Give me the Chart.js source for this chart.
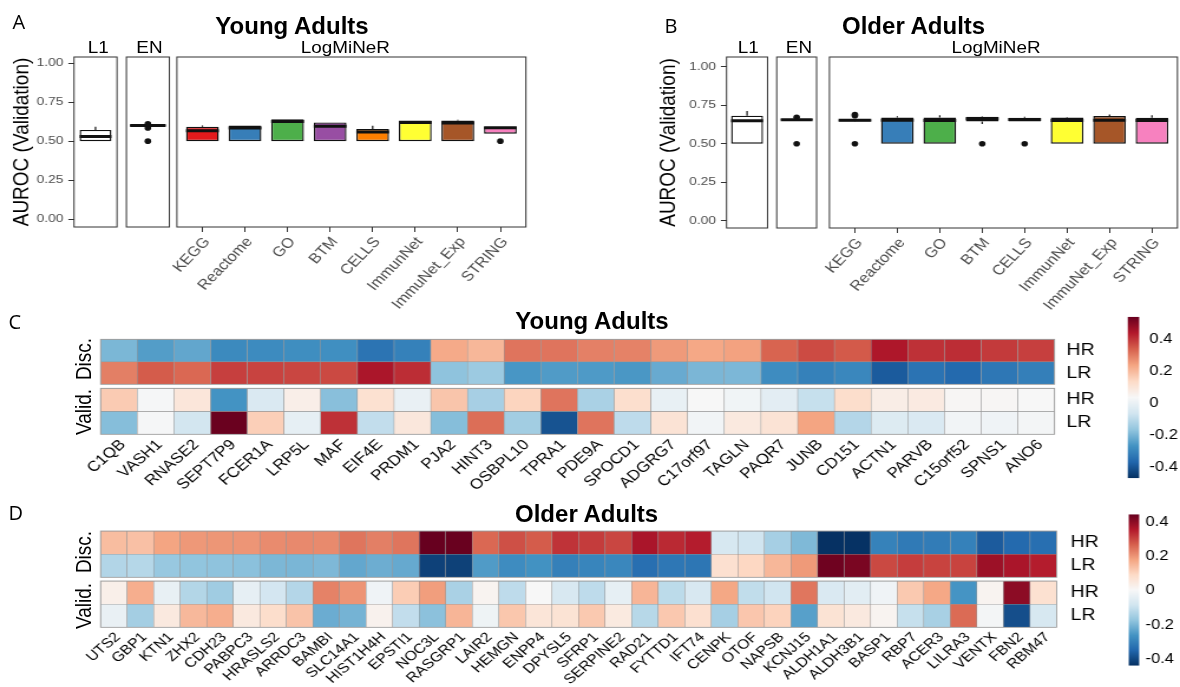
<!DOCTYPE html>
<html>
<head>
<meta charset="utf-8">
<title>AUROC validation and gene heatmaps</title>
<script src="https://cdn.jsdelivr.net/npm/chart.js@4.4.1/dist/chart.umd.min.js"></script>
<style>
  html, body { margin: 0; padding: 0; background: #fff; }
  body { width: 1180px; height: 687px; position: relative; overflow: hidden;
         font-family: "Liberation Sans", Arial, Helvetica, sans-serif; }
  #stage { position: absolute; left: 0; top: 0; width: 1000px; height: 687px; transform-origin: 0 0; }
  canvas { position: absolute; }
  .t { position: absolute; white-space: nowrap; line-height: 1; color: #000; }
</style>
</head>
<body>
<div id="stage"></div>
<script>
// ---- data -------------------------------------------------------------
const groups  = ['L1', 'EN', 'KEGG', 'Reactome', 'GO', 'BTM', 'CELLS', 'ImmunNet', 'ImmuNet_Exp', 'STRING'];
const yTicks  = [0, 0.25, 0.5, 0.75, 1];

// young adults, box statistics per group
const youngMin = [0.500, 0.597, 0.500, 0.500, 0.500, 0.500, 0.500, 0.500, 0.500, 0.548];
const youngQ1  = [0.500, 0.597, 0.500, 0.500, 0.500, 0.500, 0.500, 0.500, 0.500, 0.548];
const youngMed = [0.530, 0.600, 0.567, 0.585, 0.626, 0.595, 0.558, 0.620, 0.617, 0.586];
const youngQ3  = [0.572, 0.603, 0.592, 0.600, 0.640, 0.620, 0.578, 0.632, 0.632, 0.590];
const youngMax = [0.593, 0.603, 0.600, 0.600, 0.640, 0.620, 0.598, 0.632, 0.637, 0.590];
const youngOut = [[], [0.500, 0.585, 0.612], [], [], [], [], [], [], [], [0.500]];

// older adults
const oldMin = [0.500, 0.652, 0.642, 0.500, 0.500, 0.628, 0.645, 0.500, 0.500, 0.500];
const oldQ1  = [0.500, 0.652, 0.645, 0.500, 0.500, 0.645, 0.645, 0.500, 0.500, 0.500];
const oldMed = [0.649, 0.656, 0.652, 0.652, 0.650, 0.662, 0.658, 0.650, 0.652, 0.650];
const oldQ3  = [0.682, 0.660, 0.656, 0.670, 0.670, 0.675, 0.668, 0.670, 0.680, 0.668];
const oldMax = [0.712, 0.660, 0.660, 0.678, 0.685, 0.678, 0.675, 0.673, 0.690, 0.685];
const oldOut = [[], [0.500, 0.672], [0.500, 0.682, 0.690], [], [], [0.500], [0.500], [], [], []];

const youngLim = [-0.051, 1.040];
const oldLim   = [-0.047, 1.063];

// heatmaps
const rowLabels = ['HR', 'LR'];
const barTicks  = [-0.4, -0.2, 0, 0.2, 0.4];

const genesYoung = ['C1QB', 'VASH1', 'RNASE2', 'SEPT7P9', 'FCER1A', 'LRP5L', 'MAF', 'EIF4E', 'PRDM1', 'PJA2',
  'HINT3', 'OSBPL10', 'TPRA1', 'PDE9A', 'SPOCD1', 'ADGRG7', 'C17orf97', 'TAGLN', 'PAQR7', 'JUNB',
  'CD151', 'ACTN1', 'PARVB', 'C15orf52', 'SPNS1', 'ANO6'];
const youngDiscHR = [-0.197, -0.249, -0.23, -0.29, -0.287, -0.28, -0.277, -0.338, -0.31, 0.226,
  0.203, 0.307, 0.307, 0.29, 0.287, 0.252, 0.23, 0.24, 0.331, 0.366, 0.345, 0.443, 0.403, 0.409, 0.39, 0.383];
const youngDiscLR = [0.292, 0.343, 0.325, 0.383, 0.377, 0.374, 0.369, 0.448, 0.409, -0.172,
  -0.152, -0.263, -0.253, -0.255, -0.26, -0.222, -0.198, -0.196, -0.284, -0.31, -0.295, -0.39, -0.341, -0.36, -0.332, -0.313];
const youngValHR = [0.165, 0.03, 0.095, -0.27, -0.043, 0.065, -0.18, 0.115, -0.003, 0.176,
  -0.135, 0.146, 0.307, -0.13, 0.12, -0.005, 0.035, 0.015, -0.02, -0.084, 0.125, 0.07, 0.08, 0.04, 0.04, 0.034];
const youngValLR = [-0.183, 0.03, -0.062, 0.535, 0.157, -0.012, 0.403, -0.091, 0.09, -0.183,
  0.317, -0.143, -0.406, 0.307, -0.097, 0.105, 0.019, 0.085, 0.105, 0.236, -0.113, -0.035, -0.043, 0.019, 0.014, 0.024];
const youngLimits = [-0.471, 0.539];

const genesOld = ['UTS2', 'GBP1', 'KTN1', 'ZHX2', 'CDH23', 'PABPC3', 'HRASLS2', 'ARRDC3', 'BAMBI', 'SLC14A1',
  'HIST1H4H', 'EPSTI1', 'NOC3L', 'RASGRP1', 'LAIR2', 'HEMGN', 'ENPP4', 'DPYSL5', 'SFRP1', 'SERPINE2',
  'RAD21', 'FYTTD1', 'IFT74', 'CENPK', 'OTOF', 'NAPSB', 'KCNJ15', 'ALDH1A1', 'ALDH3B1', 'BASP1',
  'RBP7', 'ACER3', 'LILRA3', 'VENTX', 'FBN2', 'RBM47'];
const oldDiscHR = [0.14, 0.134, 0.178, 0.195, 0.198, 0.199, 0.212, 0.214, 0.213, 0.24,
  0.227, 0.24, 0.443, 0.441, 0.256, 0.286, 0.272, 0.322, 0.311, 0.298,
  0.364, 0.334, 0.35, -0.072, -0.086, -0.146, -0.196, -0.437, -0.435, -0.296,
  -0.312, -0.307, -0.298, -0.368, -0.342, -0.333];
const oldDiscLR = [-0.129, -0.126, -0.166, -0.175, -0.178, -0.182, -0.199, -0.201, -0.197, -0.227,
  -0.216, -0.224, -0.411, -0.412, -0.248, -0.276, -0.265, -0.3, -0.291, -0.286,
  -0.333, -0.317, -0.319, 0.073, 0.095, 0.149, 0.193, 0.434, 0.421, 0.295,
  0.309, 0.302, 0.302, 0.381, 0.364, 0.35];
const oldValHR = [0.028, 0.163, -0.033, -0.128, -0.155, -0.038, -0.079, -0.127, 0.223, 0.2,
  -0.016, 0.113, 0.187, -0.141, 0.015, -0.113, 0.002, -0.071, -0.113, -0.038,
  0.152, -0.115, -0.071, 0.174, -0.109, -0.086, 0.238, -0.065, -0.047, -0.016,
  0.119, 0.173, -0.26, 0.015, 0.399, 0.071];
const oldValLR = [-0.031, -0.149, 0.046, 0.147, 0.163, 0.046, 0.081, 0.129, -0.218, -0.207,
  0.02, -0.107, -0.181, 0.152, -0.02, 0.123, 0.059, 0.066, 0.119, 0.044,
  -0.123, 0.121, 0.073, -0.146, 0.124, 0.103, -0.24, 0.066, 0.046, 0.015,
  -0.101, -0.144, 0.253, -0.007, -0.39, -0.072];
const oldLimits = [-0.439, 0.443];

// ---- styles -----------------------------------------------------------
const boxFill = ['#ffffff', '#ffffff', '#e41a1c', '#377eb8', '#4daf4a', '#984ea3', '#ff7f00', '#ffff33', '#a65628', '#f781bf'];
const RDBU = ['#053061', '#2166ac', '#4393c3', '#92c5de', '#d1e5f0', '#f7f7f7', '#fddbc7', '#f4a582', '#d6604d', '#b2182b', '#67001f'];
const INK = '#111111';
const K = 1.18;   // the original figure is stretched horizontally

// layout in page pixels
const LAYOUT_A = {
  l1:  { canvas: {x: 0,   y: 45, w: 122, h: 190}, frame: {l: 74,  r: 117, t: 57, b: 227}, titleX: 22 },
  en:  { canvas: {x: 120, y: 45, w: 54,  h: 190}, frame: {l: 126, r: 169, t: 57, b: 227} },
  log: { canvas: {x: 137, y: 45, w: 403, h: 265}, frame: {l: 177, r: 526, t: 57, b: 227} }
};
const LAYOUT_B = {
  l1:  { canvas: {x: 640, y: 45, w: 132, h: 190}, frame: {l: 727, r: 768,  t: 57, b: 228}, titleX: 669 },
  en:  { canvas: {x: 772, y: 45, w: 50,  h: 190}, frame: {l: 777, r: 818,  t: 57, b: 228} },
  log: { canvas: {x: 789, y: 45, w: 391, h: 265}, frame: {l: 829, r: 1177, t: 57, b: 228} }
};
const LAYOUT_C = {
  disc:  { canvas: {x: 50, y: 330, w: 1065, h: 58},  area: {l: 101, r: 1055, t: 339.3, b: 384.3}, labelX: 1067 },
  valid: { canvas: {x: 50, y: 386, w: 1065, h: 110}, area: {l: 101, r: 1055, t: 388.3, b: 434.3}, labelX: 1067 },
  bar:   { canvas: {x: 1118, y: 305, w: 62, h: 185}, area: {l: 1128, r: 1140, t: 316.7, b: 478.3}, labelX: 1150 }
};
const LAYOUT_D = {
  disc:  { canvas: {x: 50, y: 522, w: 1065, h: 58},  area: {l: 101, r: 1057, t: 531, b: 577.3}, labelX: 1071 },
  valid: { canvas: {x: 50, y: 579, w: 1065, h: 108}, area: {l: 101, r: 1057, t: 581, b: 627.3}, labelX: 1071 },
  bar:   { canvas: {x: 1118, y: 505, w: 62, h: 172}, area: {l: 1129, r: 1140, t: 514.3, b: 665.7}, labelX: 1146 }
};

Chart.defaults.font.family = '"Liberation Sans", Arial, Helvetica, sans-serif';
const stage = document.getElementById('stage');
stage.style.transform = 'scaleX(' + K + ')';

// ---- helpers ----------------------------------------------------------
const framePlugin = {
  id: 'frame',
  afterDatasetsDraw(chart, args, o) {
    if (!o || !o.color) return;
    const a = chart.chartArea, c = chart.ctx, d = o.inset || 0;
    c.save();
    c.strokeStyle = o.color;
    c.lineWidth = o.width;
    c.strokeRect(a.left - d, a.top, a.right - a.left + 2 * d, a.bottom - a.top);
    c.restore();
  }
};

function place(x, y, w, h) {
  const c = document.createElement('canvas');
  c.width = Math.round(w / K);
  c.height = Math.round(h);
  c.style.left = (x / K) + 'px';
  c.style.top = y + 'px';
  stage.appendChild(c);
  return c;
}

function zeroPad(s) {
  s.paddingLeft = 0; s.paddingRight = 0; s.paddingTop = 0; s.paddingBottom = 0;
}

function hexRgb(h) {
  return [1, 3, 5].map(i => parseInt(h.slice(i, i + 2), 16));
}

function heatColor(v, lim) {
  let t = (v - lim[0]) / (lim[1] - lim[0]);
  t = Math.max(0, Math.min(1, t)) * (RDBU.length - 1);
  const i = Math.min(Math.floor(t), RDBU.length - 2), f = t - i;
  const a = hexRgb(RDBU[i]), b = hexRgb(RDBU[i + 1]);
  const m = a.map((c, k) => Math.round(c + (b[k] - c) * f));
  return 'rgb(' + m.join(',') + ')';
}

function txt(parent, s, x, base, size, o) {
  o = o || {};
  const d = document.createElement('div');
  d.className = 't';
  d.textContent = s;
  d.style.fontSize = size + 'px';
  if (o.bold) d.style.fontWeight = 'bold';
  if (o.family) d.style.fontFamily = o.family;
  if (o.color) d.style.color = o.color;
  d.style.left = x + 'px';
  d.style.top = (base - (o.asc || 0.8465) * size) + 'px';
  if (o.center) d.style.transform = 'translateX(-50%)';
  parent.appendChild(d);
}

function vtxt(s, cx, cy, size) {
  const d = document.createElement('div');
  d.className = 't';
  d.textContent = s;
  d.style.fontSize = size + 'px';
  d.style.left = (cx / K) + 'px';
  d.style.top = cy + 'px';
  d.style.transform = 'translate(-50%, -50%) rotate(-90deg)';
  stage.appendChild(d);
}

// ---- box plot panels --------------------------------------------------
function boxChart(lay, idx, st, lim, o) {
  const {x, y, w, h} = lay.canvas, fr = lay.frame;
  const cv = place(x, y, w, h);
  const W = cv.width, H = cv.height;
  const cats = idx.map(i => groups[i]), n = cats.length;
  // discrete axis: 0.6 unit added on each side, as in the original
  const inset = n > 1 ? (fr.r - fr.l) / (n + 0.2) * 0.1 : 0;
  const sp = {
    left: (fr.l + inset - x) / K,
    right: W - (fr.r - inset - x) / K,
    top: fr.t - y,
    bottom: H - (fr.b - y)
  };
  const showY = !!lay.titleX, showX = !!o.xLabels;
  const pct = o.pct;
  const halfBox = c => c.chart.scales.x.width / n * pct / 2;

  const outliers = [];
  idx.forEach((i, k) => st.out[i].forEach(v => outliers.push({x: cats[k], y: v})));

  const yScale = {
    type: 'linear', display: showY, min: lim[0], max: lim[1],
    afterBuildTicks: s => { s.ticks = yTicks.map(v => ({value: v})); }
  };
  if (showY) Object.assign(yScale, {
    grid: {drawOnChartArea: false, drawTicks: true, tickLength: 4.8, color: '#333333', lineWidth: 1},
    border: {display: false},
    ticks: {color: '#4d4d4d', font: {size: 11.7}, padding: 4.2, callback: v => v.toFixed(2)},
    title: {display: true, text: 'AUROC (Validation)', color: '#000', font: {size: 19},
            padding: {top: (lay.titleX - x) / K - 19 * 1.2 / 2, bottom: 0}},
    afterFit: s => { s.width = sp.left; zeroPad(s); }
  });

  const xScale = {type: 'category', display: showX, offset: true};
  if (showX) Object.assign(xScale, {
    grid: {drawOnChartArea: false, drawTicks: true, tickLength: 5, offset: false, color: '#333333', lineWidth: 1},
    border: {display: false},
    ticks: {color: '#4d4d4d', font: {size: 14}, autoSkip: false, minRotation: 50, maxRotation: 50,
            padding: 2, labelOffset: 4},
    afterFit: s => { s.height = sp.bottom; zeroPad(s); }
  });

  new Chart(cv, {
    type: 'bar',
    data: {
      labels: cats,
      datasets: [
        {data: idx.map(i => [st.min[i], st.q1[i]]), backgroundColor: INK, barThickness: 1.2,
         inflateAmount: 0, grouped: false, order: 3},
        {data: idx.map(i => [st.q3[i], st.max[i]]), backgroundColor: INK, barThickness: 1.2,
         inflateAmount: 0, grouped: false, order: 3},
        {data: idx.map(i => [st.q1[i], st.q3[i]]), backgroundColor: idx.map(i => boxFill[i]),
         borderColor: INK, borderWidth: 1.4, borderSkipped: false, inflateAmount: 0,
         barPercentage: pct, categoryPercentage: 1, grouped: false, order: 2},
        {type: 'line', showLine: false, data: idx.map((i, k) => ({x: cats[k], y: st.med[i]})),
         pointStyle: 'line', pointRadius: halfBox, pointBorderColor: INK, pointBorderWidth: 3, order: 1},
        {type: 'line', showLine: false, data: outliers, pointStyle: 'circle', pointRadius: 2.8,
         pointBackgroundColor: INK, pointBorderWidth: 0, order: 0}
      ]
    },
    options: {
      responsive: false, animation: false,
      layout: {padding: {left: showY ? 0 : sp.left, right: sp.right, top: sp.top, bottom: showX ? 0 : sp.bottom}},
      plugins: {legend: {display: false}, tooltip: {enabled: false},
                frame: {color: '#333333', width: 1, inset: inset / K}},
      scales: {x: xScale, y: yScale}
    },
    plugins: [framePlugin]
  });
}

// ---- heatmap blocks ---------------------------------------------------
function heatChart(lay, genes, rows, lim, showX, labelSize) {
  const {x, y, w, h} = lay.canvas, a = lay.area;
  const cv = place(x, y, w, h);
  const W = cv.width, H = cv.height;
  const sp = {left: (a.l - x) / K, right: W - (a.r - x) / K, top: a.t - y, bottom: H - (a.b - y)};
  const n = rows.length;
  const datasets = rows.map((vals, r) => ({
    data: genes.map(() => [n - r - 1, n - r]),
    backgroundColor: vals.map(v => heatColor(v, lim)),
    borderColor: '#999999', borderWidth: 0.55, borderSkipped: false,
    barPercentage: 1, categoryPercentage: 1, grouped: false
  }));
  const xScale = {type: 'category', display: showX, offset: true, grid: {display: false, drawTicks: false}};
  if (showX) Object.assign(xScale, {
    border: {display: false},
    ticks: {autoSkip: false, minRotation: 45, maxRotation: 45, color: '#000', font: {size: labelSize},
            padding: 2, labelOffset: 3.5},
    afterFit: s => { s.height = sp.bottom; zeroPad(s); }
  });
  new Chart(cv, {
    type: 'bar',
    data: {labels: genes, datasets},
    options: {
      responsive: false, animation: false,
      layout: {padding: {left: sp.left, right: 0, top: sp.top, bottom: showX ? 0 : sp.bottom}},
      plugins: {legend: {display: false}, tooltip: {enabled: false},
                frame: {color: '#999999', width: 0.8, inset: 0}},
      scales: {
        x: xScale,
        y: {
          type: 'linear', position: 'right', min: 0, max: n,
          grid: {display: false, drawTicks: false}, border: {display: false},
          afterBuildTicks: s => { s.ticks = rowLabels.map((_, i) => ({value: i + 0.5})); },
          ticks: {color: '#000', font: {size: 16.5}, padding: (lay.labelX - a.r) / K,
                  callback: (v, i) => rowLabels[n - 1 - i]},
          afterFit: s => { s.width = sp.right; zeroPad(s); }
        }
      }
    },
    plugins: [framePlugin]
  });
}

function colorBar(lay, lim) {
  const {x, y, w, h} = lay.canvas, a = lay.area;
  const cv = place(x, y, w, h);
  const W = cv.width, H = cv.height;
  const sp = {left: (a.l - x) / K, right: W - (a.r - x) / K, top: a.t - y, bottom: H - (a.b - y)};
  const gradient = c => {
    const ca = c.chart.chartArea;
    if (!ca) return RDBU[5];
    const g = c.chart.ctx.createLinearGradient(0, ca.bottom, 0, ca.top);
    RDBU.forEach((col, i) => g.addColorStop(i / (RDBU.length - 1), col));
    return g;
  };
  new Chart(cv, {
    type: 'bar',
    data: {labels: [''], datasets: [{data: [[lim[0], lim[1]]], backgroundColor: gradient, borderWidth: 0,
                                      inflateAmount: 0, barPercentage: 1, categoryPercentage: 1}]},
    options: {
      responsive: false, animation: false,
      layout: {padding: {left: sp.left, right: 0, top: sp.top, bottom: sp.bottom}},
      plugins: {legend: {display: false}, tooltip: {enabled: false}},
      scales: {
        x: {display: false},
        y: {
          type: 'linear', position: 'right', min: lim[0], max: lim[1],
          grid: {display: false, drawTicks: false}, border: {display: false},
          afterBuildTicks: s => { s.ticks = barTicks.map(v => ({value: v})); },
          ticks: {color: '#000', font: {size: 14}, padding: (lay.labelX - a.r) / K, callback: v => String(v)},
          afterFit: s => { s.width = sp.right; zeroPad(s); }
        }
      }
    }
  });
}

// ---- build --------------------------------------------------------------
const young = {min: youngMin, q1: youngQ1, med: youngMed, q3: youngQ3, max: youngMax, out: youngOut};
const older = {min: oldMin, q1: oldQ1, med: oldMed, q3: oldQ3, max: oldMax, out: oldOut};
const methodIdx = [2, 3, 4, 5, 6, 7, 8, 9];

boxChart(LAYOUT_A.l1, [0], young, youngLim, {pct: 0.74});
boxChart(LAYOUT_A.en, [1], young, youngLim, {pct: 0.83});
boxChart(LAYOUT_A.log, methodIdx, young, youngLim, {pct: 0.77, xLabels: true});
boxChart(LAYOUT_B.l1, [0], older, oldLim, {pct: 0.78});
boxChart(LAYOUT_B.en, [1], older, oldLim, {pct: 0.80});
boxChart(LAYOUT_B.log, methodIdx, older, oldLim, {pct: 0.77, xLabels: true});

heatChart(LAYOUT_C.disc, genesYoung, [youngDiscHR, youngDiscLR], youngLimits, false, 14.5);
heatChart(LAYOUT_C.valid, genesYoung, [youngValHR, youngValLR], youngLimits, true, 14.5);
colorBar(LAYOUT_C.bar, youngLimits);
heatChart(LAYOUT_D.disc, genesOld, [oldDiscHR, oldDiscLR], oldLimits, false, 13.5);
heatChart(LAYOUT_D.valid, genesOld, [oldValHR, oldValLR], oldLimits, true, 13.5);
colorBar(LAYOUT_D.bar, oldLimits);

// strip labels and row-block labels (stretched with the charts)
txt(stage, 'L1', 98.3 / K, 53.3, 16, {center: true});
txt(stage, 'EN', 149.5 / K, 53.3, 16, {center: true});
txt(stage, 'LogMiNeR', 345.4 / K, 53.3, 16, {center: true});
txt(stage, 'L1', 748.3 / K, 53.3, 16, {center: true});
txt(stage, 'EN', 799 / K, 53.3, 16, {center: true});
txt(stage, 'LogMiNeR', 996 / K, 53.3, 16, {center: true});
vtxt('Disc.', 84, 359, 19);
vtxt('Valid.', 84, 412, 19);
vtxt('Disc.', 84, 552, 19);
vtxt('Valid.', 84, 606, 19);

// titles and panel letters
const body = document.body;
txt(body, 'Young Adults', 292, 34, 24, {bold: true, center: true});
txt(body, 'Older Adults', 913.6, 34, 24, {bold: true, center: true});
txt(body, 'Young Adults', 592, 329.5, 24, {bold: true, center: true});
txt(body, 'Older Adults', 586.6, 522, 24, {bold: true, center: true});
const LETTER = {family: '"Open Sans", "Liberation Sans", sans-serif', asc: 0.888};
txt(body, 'A', 12.5, 29.3, 20, LETTER);
txt(body, 'B', 664.5, 33.3, 20, LETTER);
txt(body, 'C', 8.5, 330, 20, LETTER);
txt(body, 'D', 8.5, 521, 20, LETTER);
</script>
</body>
</html>
